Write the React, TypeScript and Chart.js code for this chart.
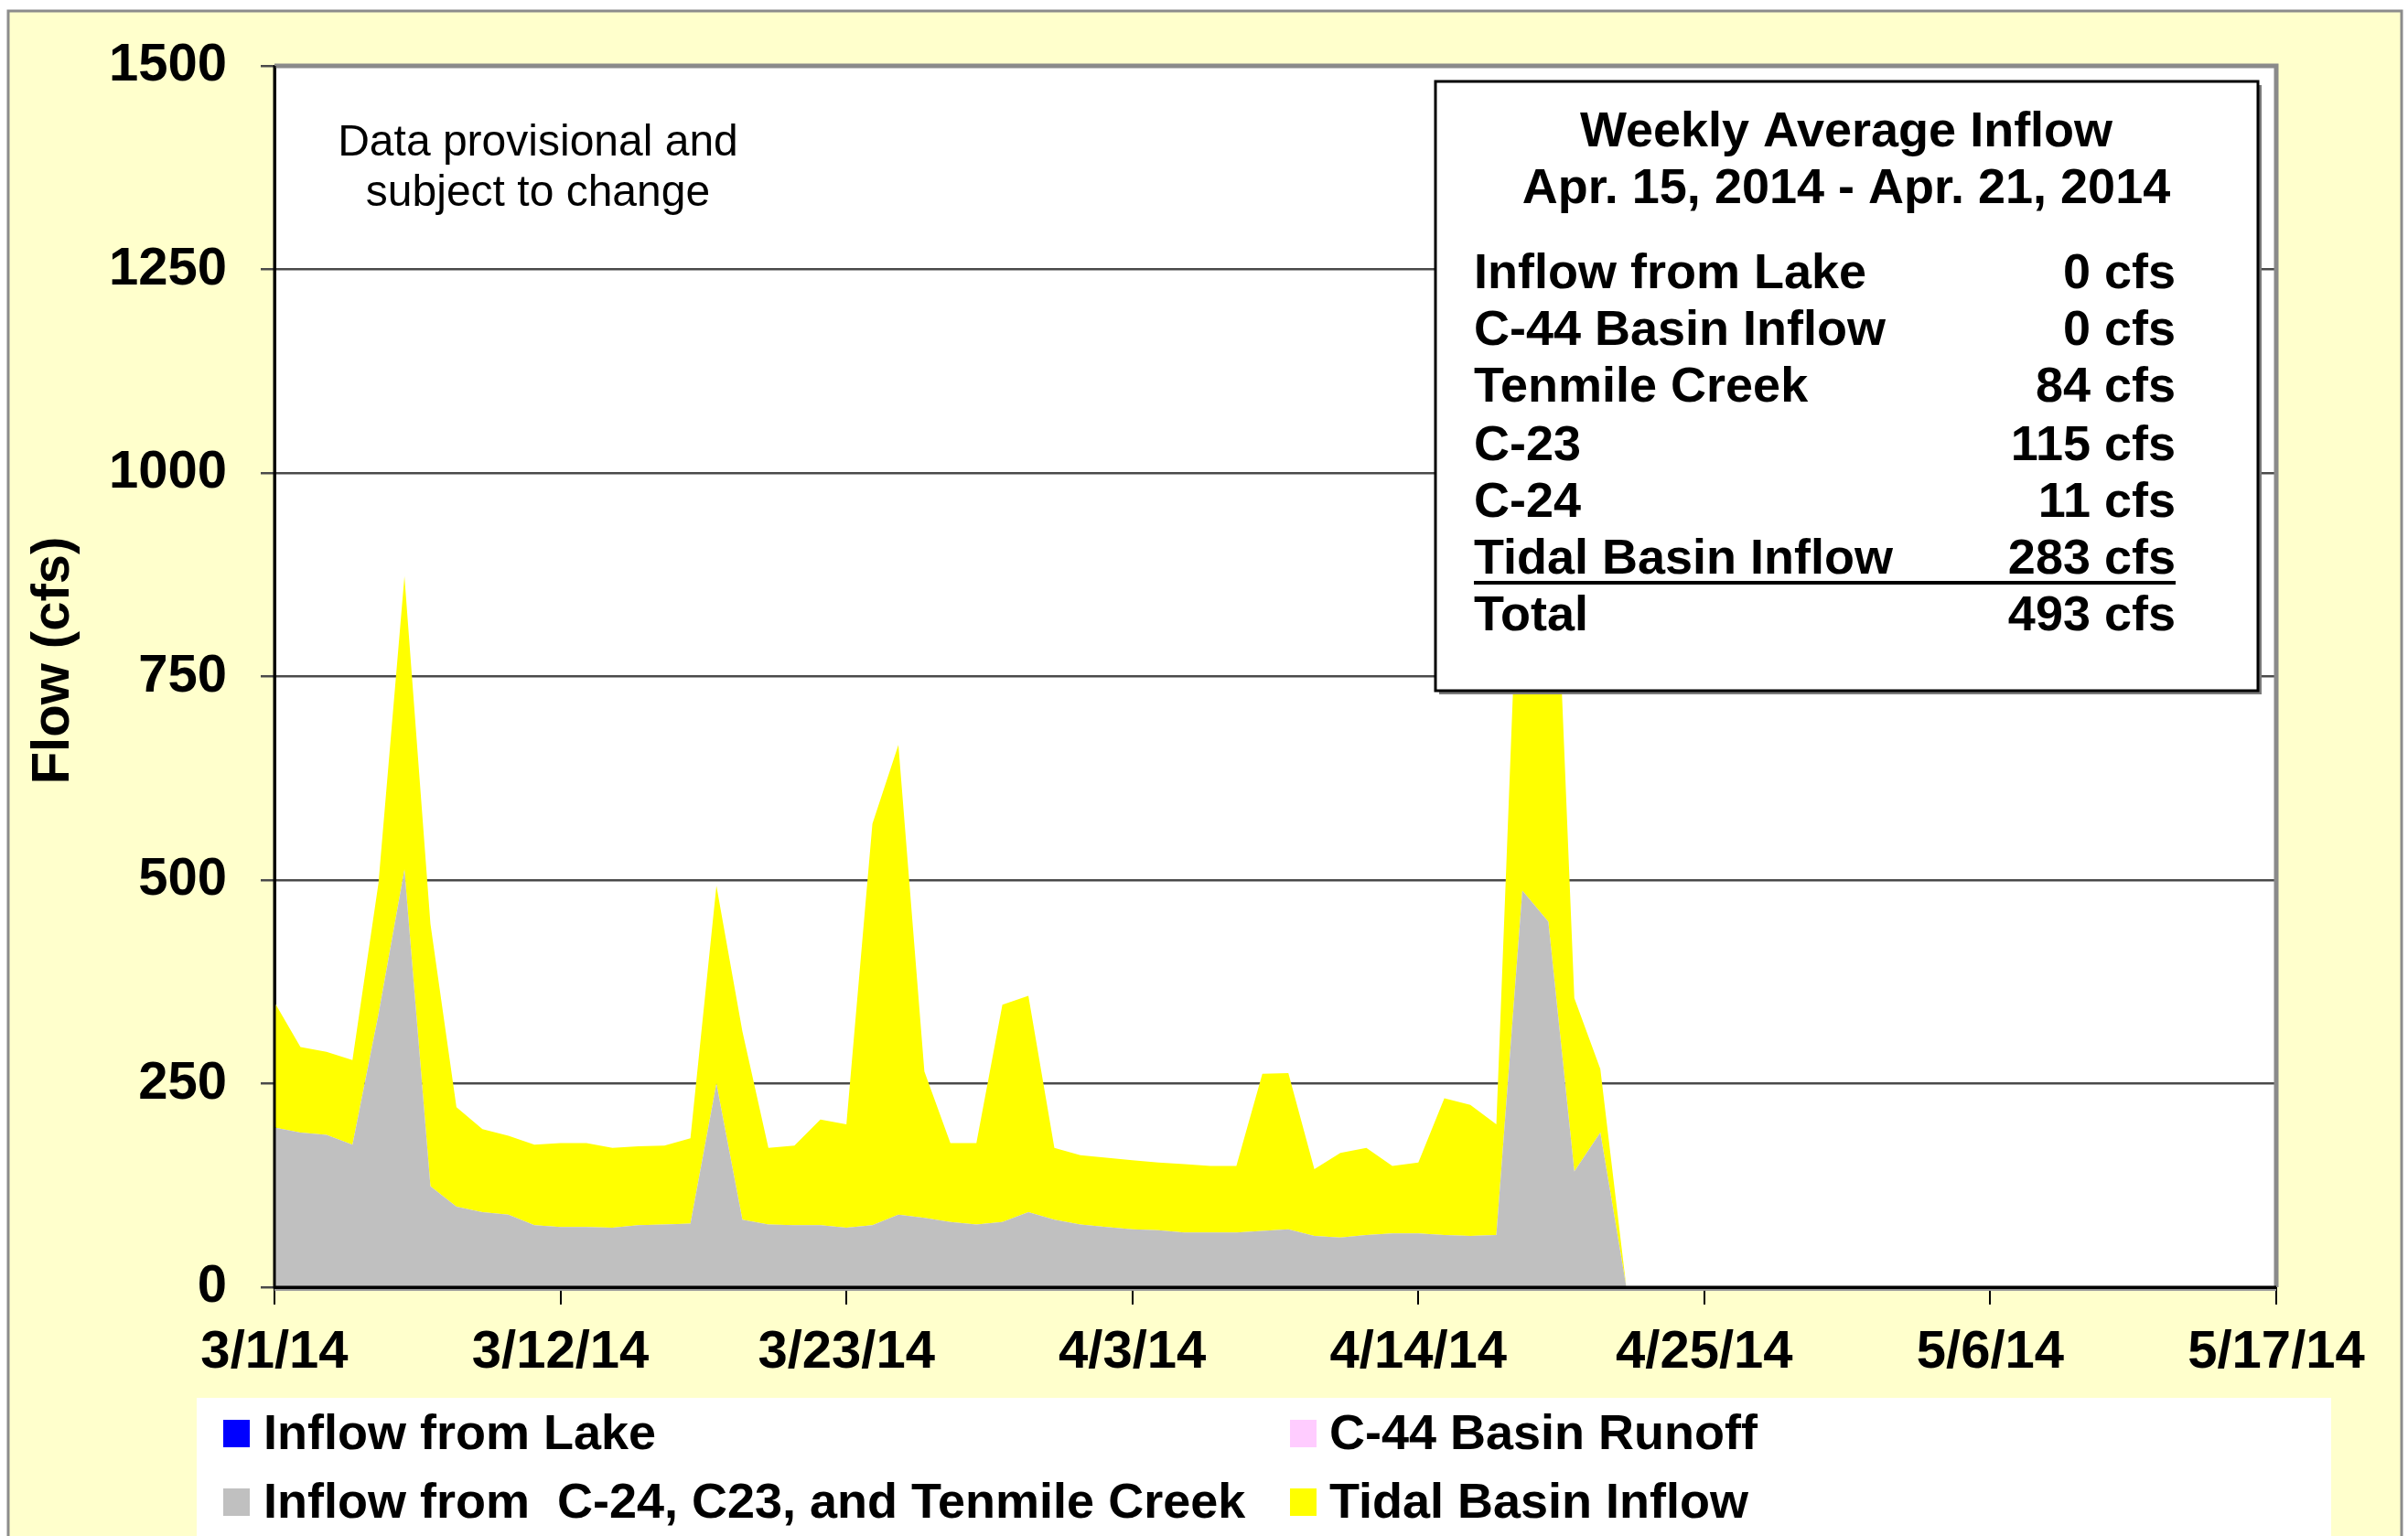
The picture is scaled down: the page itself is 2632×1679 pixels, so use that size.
import React, { useEffect, useRef } from 'react';
import { Chart, registerables } from 'chart.js';

Chart.register(...registerables);

// ---- Data (daily flow, cfs) ----
const dates = [
  '3/1/14', '3/2/14', '3/3/14', '3/4/14', '3/5/14', '3/6/14', '3/7/14', '3/8/14', '3/9/14', '3/10/14',
  '3/11/14', '3/12/14', '3/13/14', '3/14/14', '3/15/14', '3/16/14', '3/17/14', '3/18/14', '3/19/14', '3/20/14',
  '3/21/14', '3/22/14', '3/23/14', '3/24/14', '3/25/14', '3/26/14', '3/27/14', '3/28/14', '3/29/14', '3/30/14',
  '3/31/14', '4/1/14', '4/2/14', '4/3/14', '4/4/14', '4/5/14', '4/6/14', '4/7/14', '4/8/14', '4/9/14',
  '4/10/14', '4/11/14', '4/12/14', '4/13/14', '4/14/14', '4/15/14', '4/16/14', '4/17/14', '4/18/14', '4/19/14',
  '4/20/14', '4/21/14', '4/22/14',
];

const inflowFromLake = [
  0, 0, 0, 0, 0, 0, 0, 0, 0, 0, 0, 0, 0, 0, 0, 0, 0, 0, 0, 0, 0, 0, 0, 0, 0, 0, 0,
  0, 0, 0, 0, 0, 0, 0, 0, 0, 0, 0, 0, 0, 0, 0, 0, 0, 0, 0, 0, 0, 0, 0, 0, 0, 0,
];

const c44BasinRunoff = [
  0, 0, 0, 0, 0, 0, 0, 0, 0, 0, 0, 0, 0, 0, 0, 0, 0, 0, 0, 0, 0, 0, 0, 0, 0, 0, 0,
  0, 0, 0, 0, 0, 0, 0, 0, 0, 0, 0, 0, 0, 0, 0, 0, 0, 0, 0, 0, 0, 0, 0, 0, 0, 0,
];

const inflowC24C23Tenmile = [
  196, 190, 187, 175, 335, 513, 124, 99, 92, 89,
  76, 74, 74, 73, 76, 77, 78, 250, 83, 77,
  76, 76, 73, 76, 89, 85, 80, 77, 80, 92,
  83, 77, 74, 71, 70, 67, 67, 67, 69, 71,
  63, 61, 64, 66, 66, 64, 63, 64, 487, 449,
  142, 190, 0,
];

const tidalBasinInflow = [
  154, 105, 102, 104, 161, 360, 322, 122, 102, 97,
  99, 103, 103, 98, 97, 97, 105, 243, 231, 94,
  98, 130, 127, 493, 577, 180, 97, 100, 267, 266,
  88, 85, 85, 85, 83, 84, 82, 82, 193, 192,
  82, 104, 107, 83, 87, 168, 161, 136, 543, 691,
  213, 78, 0,
];

const tickLabels = ['3/1/14', '3/12/14', '3/23/14', '4/3/14', '4/14/14', '4/25/14', '5/6/14', '5/17/14'];
const yTicks = [0, 250, 500, 750, 1000, 1250, 1500];

const summaryTitle = ['Weekly Average Inflow', 'Apr. 15, 2014 - Apr. 21, 2014'];
const summaryLabels = ['Inflow from Lake', 'C-44 Basin Inflow', 'Tenmile Creek', 'C-23', 'C-24', 'Tidal Basin Inflow', 'Total'];
const summaryValues = ['0 cfs', '0 cfs', '84 cfs', '115 cfs', '11 cfs', '283 cfs', '493 cfs'];

const legendLabels = ['Inflow from Lake', 'C-44 Basin Runoff', 'Inflow from  C-24, C23, and Tenmile Creek', 'Tidal Basin Inflow'];
const legendColors = ['#0000FF', '#FFCCFF', '#C0C0C0', '#FFFF00'];

const noteLines = ['Data provisional and', 'subject to change'];

// ---- helpers ----
function dayOf(label: string): number {
  const [m, d, y] = label.split('/').map(Number);
  const t = Date.UTC(2000 + y, m - 1, d);
  return Math.round((t - Date.UTC(2014, 2, 1)) / 86400000);
}
const tickDays = tickLabels.map(dayOf);
const toPoints = (arr: number[]) => arr.map((v, i) => ({ x: dayOf(dates[i]), y: v }));

const FONT = '"Liberation Sans", Arial, Helvetica, sans-serif';

const decorPlugin = {
  id: 'decor',
  beforeDraw(chart: any) {
    const { ctx, chartArea } = chart;
    const W = chart.width;
    const H = chart.height;
    ctx.save();
    ctx.fillStyle = '#FFFFFF';
    ctx.fillRect(0, 0, W, H);
    ctx.fillStyle = '#FFFFCC';
    ctx.fillRect(9, 12, 2616, H - 12);
    ctx.strokeStyle = '#8C8C8C';
    ctx.lineWidth = 3;
    ctx.beginPath();
    ctx.moveTo(9, H);
    ctx.lineTo(9, 12);
    ctx.lineTo(2625, 12);
    ctx.lineTo(2625, H);
    ctx.stroke();
    ctx.fillStyle = '#FFFFFF';
    ctx.fillRect(chartArea.left, chartArea.top, chartArea.right - chartArea.left, chartArea.bottom - chartArea.top);
    ctx.restore();
  },
  afterDatasetsDraw(chart: any) {
    const { ctx, chartArea } = chart;
    const { left, right, top, bottom } = chartArea;
    ctx.save();
    // plot frame
    ctx.strokeStyle = '#8A8A8A';
    ctx.lineWidth = 5;
    ctx.beginPath();
    ctx.moveTo(left, top);
    ctx.lineTo(right, top);
    ctx.lineTo(right, bottom);
    ctx.stroke();
    ctx.strokeStyle = '#000000';
    ctx.lineWidth = 3;
    ctx.beginPath();
    ctx.moveTo(left, top);
    ctx.lineTo(left, bottom);
    ctx.lineTo(right, bottom);
    ctx.stroke();
    ctx.strokeStyle = '#9A9A9A';
    ctx.lineWidth = 2;
    ctx.beginPath();
    ctx.moveTo(left, bottom + 3);
    ctx.lineTo(right, bottom + 3);
    ctx.stroke();

    // note text
    ctx.fillStyle = '#000';
    ctx.font = `48px ${FONT}`;
    ctx.textAlign = 'center';
    ctx.textBaseline = 'middle';
    ctx.fillText(noteLines[0], 588, 157);
    ctx.fillText(noteLines[1], 588, 212);

    // summary box
    const bx = 1569, by = 89, bw = 899, bh = 666;
    ctx.fillStyle = '#7A7A7A';
    ctx.fillRect(bx + 4, by + 4, bw, bh);
    ctx.fillStyle = '#FFFFFF';
    ctx.fillRect(bx, by, bw, bh);
    ctx.strokeStyle = '#000';
    ctx.lineWidth = 3;
    ctx.strokeRect(bx, by, bw, bh);

    ctx.fillStyle = '#000';
    ctx.font = `bold 54px ${FONT}`;
    ctx.textAlign = 'center';
    ctx.fillText(summaryTitle[0], 2018, 145);
    ctx.fillText(summaryTitle[1], 2018, 207);
    const rowY = [300, 362, 424, 488, 550, 612, 674];
    summaryLabels.forEach((lab, i) => {
      ctx.textAlign = 'left';
      ctx.fillText(lab, 1611, rowY[i]);
      ctx.textAlign = 'right';
      ctx.fillText(summaryValues[i], 2378, rowY[i]);
    });
    ctx.lineWidth = 4;
    ctx.beginPath();
    ctx.moveTo(1611, 637);
    ctx.lineTo(2378, 637);
    ctx.stroke();

    // y-axis title
    ctx.save();
    ctx.translate(59, 722);
    ctx.rotate(-Math.PI / 2);
    ctx.textAlign = 'center';
    ctx.textBaseline = 'middle';
    ctx.font = `bold 58px ${FONT}`;
    ctx.fillText('Flow (cfs)', 0, 0);
    ctx.restore();

    ctx.restore();
  },
  afterDraw(chart: any) {
    const { ctx } = chart;
    const H = chart.height;
    ctx.save();
    ctx.fillStyle = '#FFFFFF';
    ctx.fillRect(215, 1528, 2333, H - 1528);
    const pos = [
      { mx: 244, tx: 288, y: 1567 },
      { mx: 1410, tx: 1453, y: 1567 },
      { mx: 244, tx: 288, y: 1642 },
      { mx: 1410, tx: 1453, y: 1642 },
    ];
    ctx.font = `bold 54px ${FONT}`;
    ctx.textAlign = 'left';
    ctx.textBaseline = 'middle';
    legendLabels.forEach((lab, i) => {
      const p = pos[i];
      ctx.fillStyle = legendColors[i];
      ctx.fillRect(p.mx, p.y - 15, 29, 30);
      ctx.fillStyle = '#000';
      ctx.fillText(lab, p.tx, p.y + 2);
    });
    ctx.restore();
  },
};

export default function App() {
  const ref = useRef<HTMLCanvasElement>(null);

  useEffect(() => {
    if (!ref.current) return;
    const chart = new Chart(ref.current, {
      type: 'line',
      data: {
        datasets: [
          {
            label: legendLabels[0],
            data: toPoints(inflowFromLake),
            backgroundColor: legendColors[0],
            borderWidth: 0,
            pointRadius: 0,
            fill: 'origin',
          },
          {
            label: legendLabels[1],
            data: toPoints(c44BasinRunoff),
            backgroundColor: legendColors[1],
            borderWidth: 0,
            pointRadius: 0,
            fill: '-1',
          },
          {
            label: legendLabels[2],
            data: toPoints(inflowC24C23Tenmile),
            backgroundColor: legendColors[2],
            borderColor: legendColors[2],
            borderWidth: 0,
            pointRadius: 0,
            fill: '-1',
          },
          {
            label: legendLabels[3],
            data: toPoints(tidalBasinInflow),
            backgroundColor: legendColors[3],
            borderColor: legendColors[3],
            borderWidth: 0,
            pointRadius: 0,
            fill: '-1',
          },
        ],
      },
      options: {
        responsive: false,
        animation: false,
        devicePixelRatio: 1,
        layout: { padding: { left: 0, right: 144, top: 72, bottom: 0 } },
        plugins: {
          legend: { display: false },
          tooltip: { enabled: false },
        },
        elements: { line: { tension: 0 } },
        scales: {
          x: {
            type: 'linear',
            min: tickDays[0],
            max: tickDays[tickDays.length - 1],
            afterBuildTicks: (scale: any) => {
              scale.ticks = tickDays.map((v) => ({ value: v }));
            },
            afterFit: (scale: any) => {
              scale.height = 272;
            },
            ticks: {
              autoSkip: false,
              maxRotation: 0,
              minRotation: 0,
              padding: 18,
              color: '#000',
              font: { family: FONT, size: 58, weight: 'bold' },
              callback: (v: any) => {
                const i = tickDays.indexOf(Number(v));
                return i >= 0 ? tickLabels[i] : '';
              },
            },
            grid: {
              drawOnChartArea: false,
              drawTicks: true,
              tickLength: 19,
              color: '#000',
              lineWidth: 2,
            },
            border: { display: true, color: '#000', width: 3 },
          },
          y: {
            stacked: true,
            min: yTicks[0],
            max: yTicks[yTicks.length - 1],
            afterBuildTicks: (scale: any) => {
              scale.ticks = yTicks.map((v) => ({ value: v }));
            },
            afterFit: (scale: any) => {
              scale.width = 300;
            },
            ticks: {
              padding: 37,
              color: '#000',
              font: { family: FONT, size: 58, weight: 'bold' },
              callback: (v: any) => String(v),
            },
            grid: {
              color: '#4A4A4A',
              lineWidth: 2.5,
              tickLength: 15,
              drawTicks: true,
            },
            border: { display: true, color: '#000', width: 3 },
            title: { display: false },
          },
        },
      },
      plugins: [decorPlugin],
    } as any);
    return () => chart.destroy();
  }, []);

  return (
    <div style={{ position: 'absolute', left: 0, top: 0, width: 2632, height: 1679, overflow: 'hidden' }}>
      <canvas ref={ref} width={2632} height={1679} style={{ display: 'block' }} />
    </div>
  );
}
